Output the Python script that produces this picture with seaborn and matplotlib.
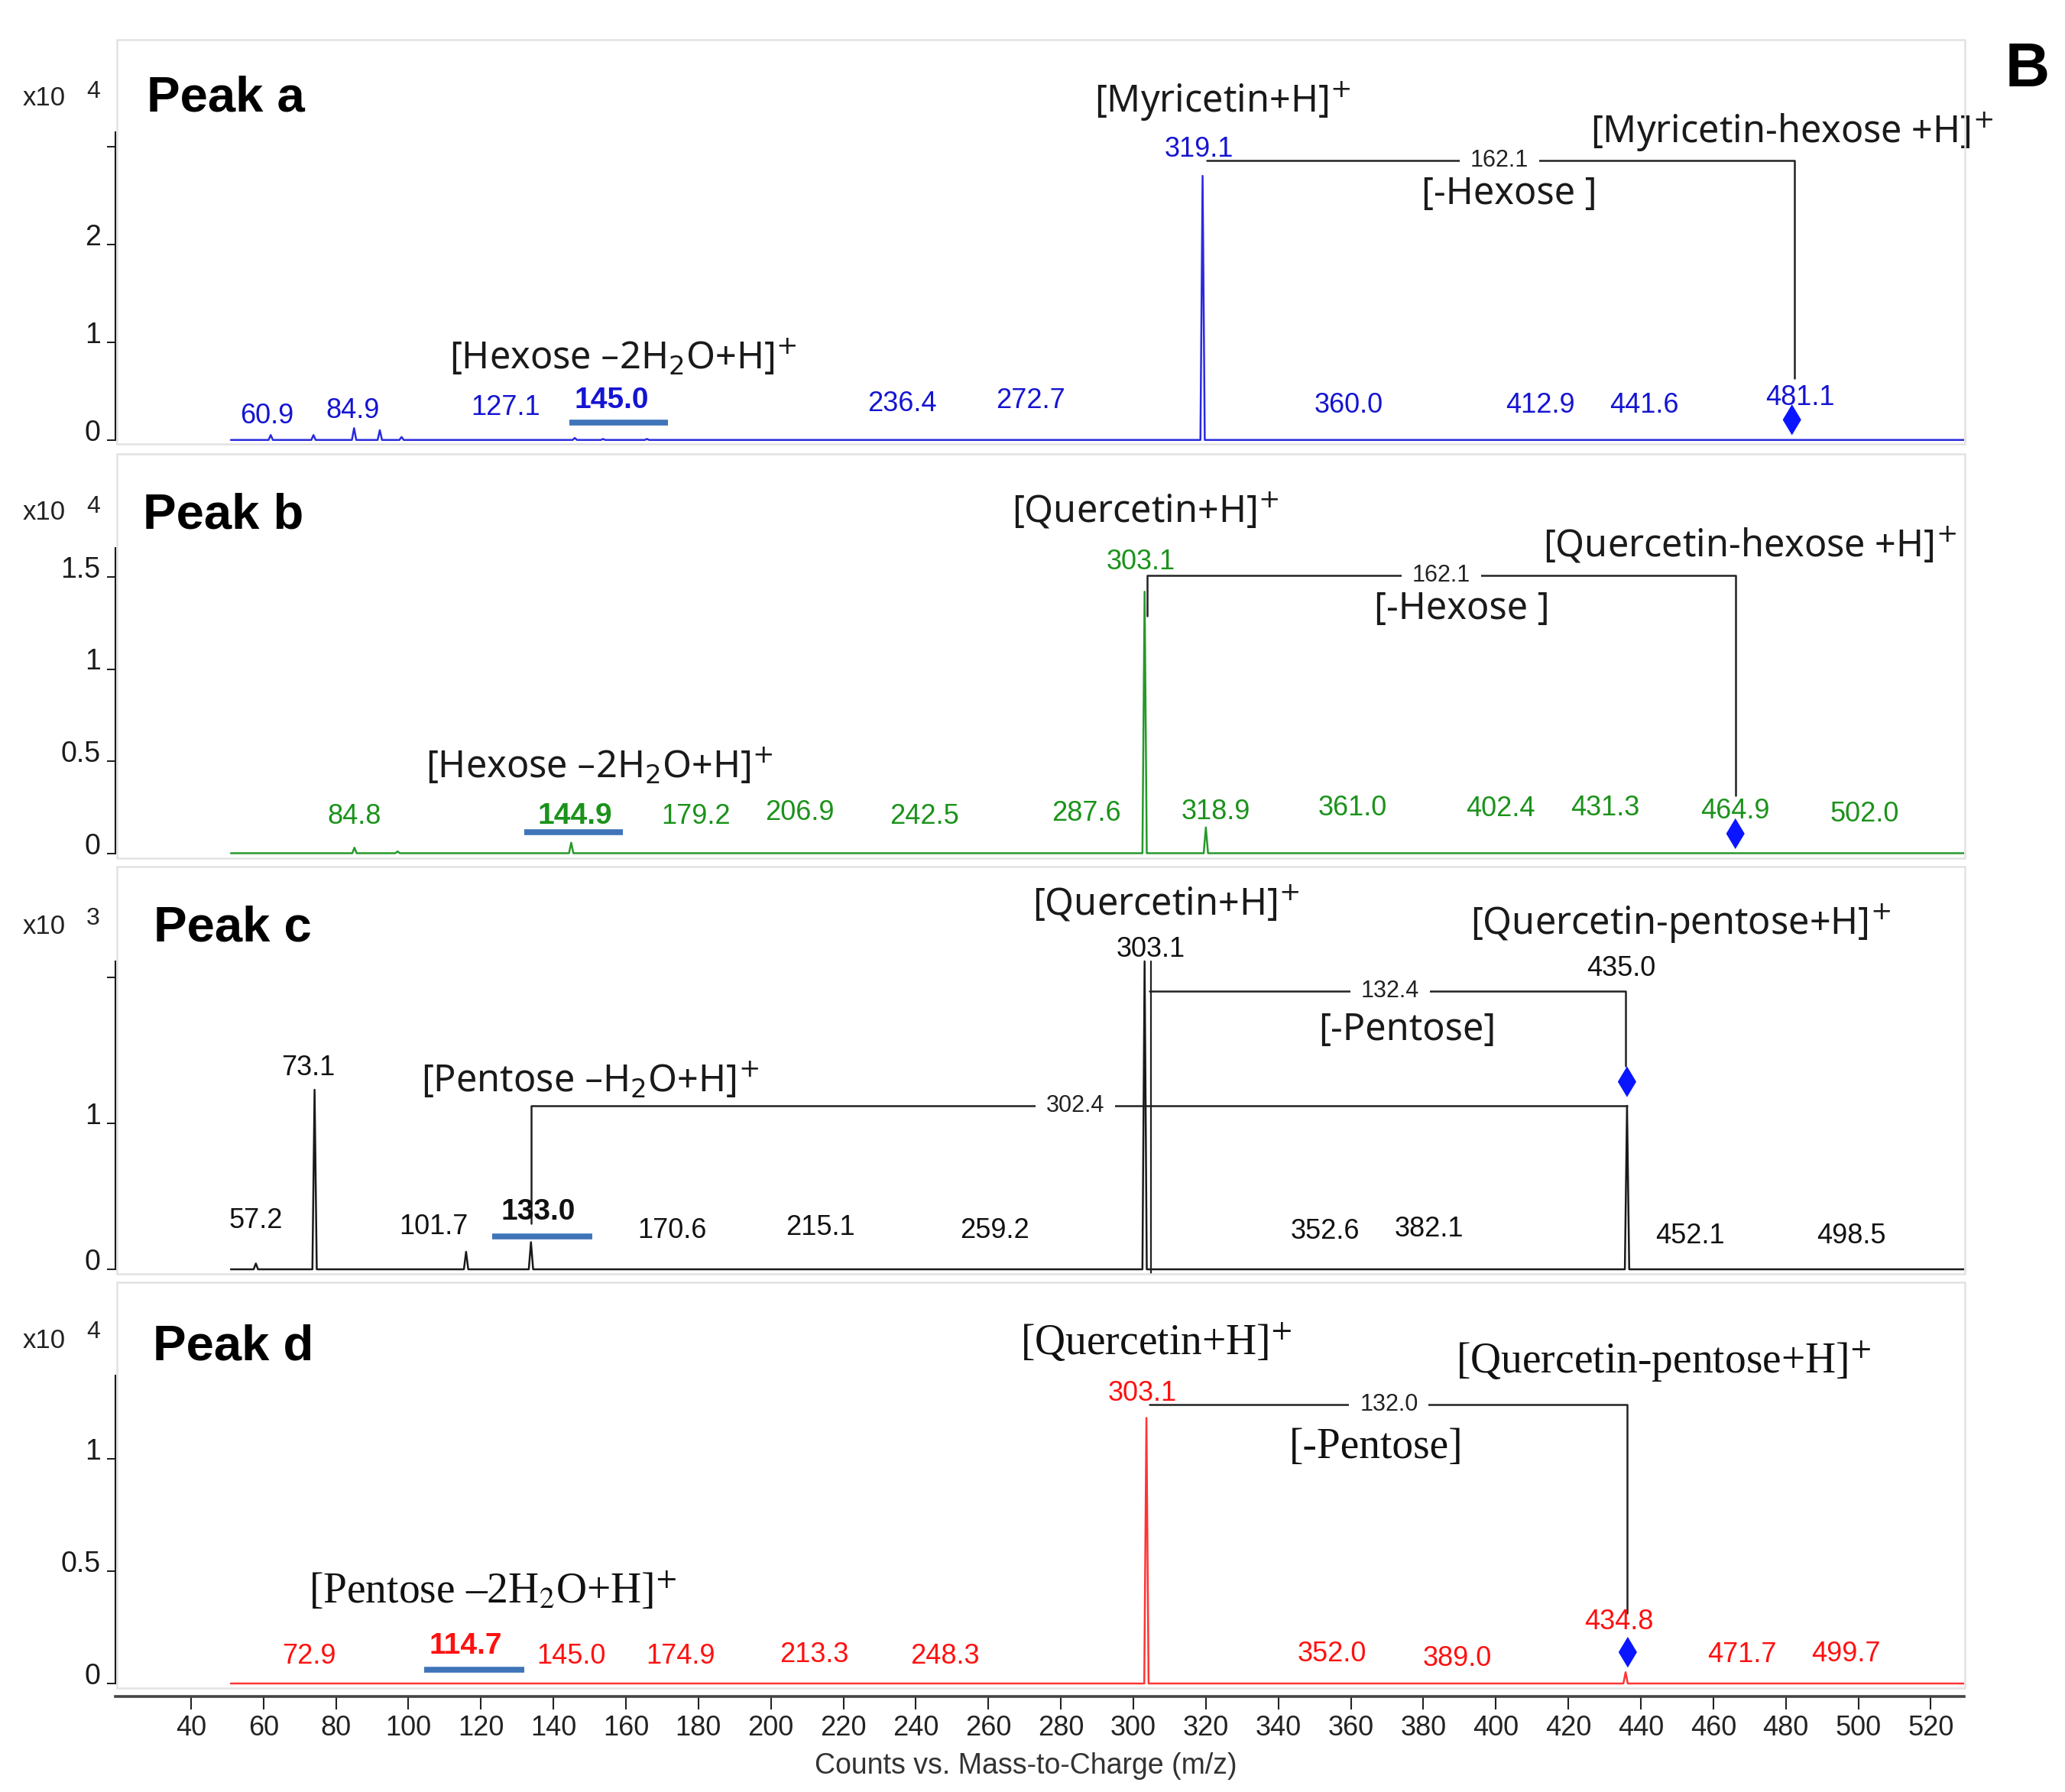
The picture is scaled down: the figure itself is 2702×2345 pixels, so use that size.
import numpy as np
import pandas as pd
import matplotlib
matplotlib.use("Agg")
import matplotlib.pyplot as plt
import seaborn as sns
from matplotlib.patches import Rectangle
from matplotlib.transforms import ScaledTranslation

# ---- data: intensities are in units of the "x10^n" shown on each panel ----
# Peak a (blue)
a_peak_mz = [62.0, 73.8, 85.0, 92.1, 98.1, 145.9, 153.7, 165.8, 319.1]
a_peak_int = [0.05, 0.05, 0.12, 0.10, 0.03, 0.02, 0.01, 0.01, 2.70]
a_labels = [60.9, 84.9, 127.1, 145.0, 236.4, 272.7, 319.1, 360.0, 412.9, 441.6, 481.1]
# Peak b (green)
b_peak_mz = [85.1, 97.0, 144.9, 303.1, 320.0]
b_peak_int = [0.03, 0.01, 0.057, 1.42, 0.14]
b_labels = [84.8, 144.9, 179.2, 206.9, 242.5, 287.6, 303.1, 318.9, 361.0, 402.4, 431.3, 464.9, 502.0]
# Peak c (black)
c_peak_mz = [57.9, 74.1, 115.9, 133.8, 303.1, 436.2]
c_peak_int = [0.04, 1.23, 0.12, 0.186, 2.11, 1.12]
c_labels = [57.2, 73.1, 101.7, 133.0, 170.6, 215.1, 259.2, 303.1, 352.6, 382.1, 435.0, 452.1, 498.5]
# Peak d (red)
d_peak_mz = [303.6, 435.8]
d_peak_int = [1.18, 0.05]
d_labels = [72.9, 114.7, 145.0, 174.9, 213.3, 248.3, 303.1, 352.0, 389.0, 434.8, 471.7, 499.7]

x_ticks = list(range(40, 521, 20))

# ---- layout (label positions in data coords) ----
a_lab_x = [60.9, 84.7, 126.7, 156.0, 236.2, 271.7, 318.0, 359.5, 412.3, 441.0, 484.0]
a_lab_y = [0.24, 0.295, 0.33, 0.40, 0.365, 0.40, 2.97, 0.35, 0.35, 0.35, 0.43]
b_lab_x = [85.1, 145.9, 179.2, 207.9, 242.4, 287.0, 302.0, 322.7, 360.4, 401.3, 430.2, 466.1, 501.8]
b_lab_y = [0.2, 0.2, 0.2, 0.221, 0.2, 0.216, 1.58, 0.223, 0.244, 0.24, 0.244, 0.23, 0.21]
c_lab_x = [57.9, 72.4, 106.9, 135.7, 172.8, 213.6, 261.8, 304.8, 352.9, 381.6, 434.6, 453.7, 498.1]
c_lab_y = [0.33, 1.377, 0.293, 0.393, 0.267, 0.285, 0.267, 2.19, 0.258, 0.277, 2.06, 0.23, 0.23]
d_lab_x = [72.6, 115.7, 145.0, 175.0, 211.9, 248.0, 302.5, 354.8, 389.3, 434.0, 468.0, 496.7]
d_lab_y = [0.119, 0.168, 0.119, 0.119, 0.126, 0.119, 1.29, 0.132, 0.112, 0.275, 0.126, 0.132]

panels = [
    dict(name="Peak a", exp="4", box=(52, 581, 575.7, 128), spine_top=3.15,
         yticks=[0, 1, 2, 3], yticklabels=["0", "1", "2", ""],
         line="#2a2ae0", txt="#1414d2", mz=a_peak_mz, inten=a_peak_int,
         labels=a_labels, lx=a_lab_x, ly=a_lab_y, bold=3, bar=(144.3, 171.5, 0.18),
         diamond=(481.7, 0.206),
         brackets=[(320.3, 482.4, 2.856, None, 0.634, "162.1", 401.0)],
         extra=[],
         notes=[("[Myricetin+H]$^{+}$", 324.7, 3.46), ("[Myricetin-hexose +H]$^{+}$", 481.6, 3.15),
                ("[-Hexose ]", 403.7, 2.51), ("[Hexose \u20132H$_2$O+H]$^{+}$", 159.2, 0.84)],
         serif=False, xy=((58, 129), (122, 120)), peak_xy=(192, 145)),
    dict(name="Peak b", exp="4", box=(594, 1123.4, 1116.5, 241), spine_top=1.658,
         yticks=[0, 0.5, 1, 1.5], yticklabels=["0", "0.5", "1", "1.5"],
         line="#26992a", txt="#1b921b", mz=b_peak_mz, inten=b_peak_int,
         labels=b_labels, lx=b_lab_x, ly=b_lab_y, bold=1, bar=(132.0, 159.2, 0.114),
         diamond=(466.1, 0.106),
         brackets=[(303.8, 466.1, 1.51, 1.29, 0.313, "162.1", 385.0)],
         extra=[],
         notes=[("[Quercetin+H]$^{+}$", 303.4, 1.857), ("[Quercetin-hexose +H]$^{+}$", 470.0, 1.67),
                ("[-Hexose ]", 390.6, 1.325), ("[Hexose \u20132H$_2$O+H]$^{+}$", 152.7, 0.467)],
         serif=False, xy=((58, 670), (122, 663)), peak_xy=(187, 691)),
    dict(name="Peak c", exp="3", box=(1134, 1667, 1661, 191), spine_top=2.11,
         yticks=[0, 1, 2], yticklabels=["0", "1", ""],
         line="#1a1a1a", txt="#111111", mz=c_peak_mz, inten=c_peak_int,
         labels=c_labels, lx=c_lab_x, ly=c_lab_y, bold=3, bar=(123.2, 150.7, 0.225),
         diamond=(436.2, 1.285),
         brackets=[(304.4, 435.8, 1.907, None, 1.394, "132.4", 370.8),
                   (133.8, 436.2, 1.12, 0.312, None, "302.4", 284.0)],
         extra=[(304.9, -0.04, 2.11)],
         notes=[("[Quercetin+H]$^{+}$", 309.1, 2.5), ("[Quercetin-pentose+H]$^{+}$", 451.0, 2.37),
                ("[-Pentose]", 375.5, 1.64), ("[Pentose \u2013H$_2$O+H]$^{+}$", 150.1, 1.29)],
         serif=False, xy=((58, 1212), (122, 1202)), peak_xy=(201, 1231)),
    dict(name="Peak d", exp="4", box=(1678, 2209, 2203, 294.5), spine_top=1.368,
         yticks=[0, 0.5, 1], yticklabels=["0", "0.5", "1"],
         line="#ff3434", txt="#ff1010", mz=d_peak_mz, inten=d_peak_int,
         labels=d_labels, lx=d_lab_x, ly=d_lab_y, bold=1, bar=(104.4, 131.9, 0.061),
         diamond=(436.4, 0.139),
         brackets=[(304.4, 436.2, 1.24, None, 0.312, "132.0", 370.5)],
         extra=[],
         notes=[("[Quercetin+H]$^{+}$", 306.2, 1.515), ("[Quercetin-pentose+H]$^{+}$", 446.2, 1.43),
                ("[-Pentose]", 367.0, 1.05), ("[Pentose \u20132H$_2$O+H]$^{+}$", 123.3, 0.41)],
         serif=True, xy=((58, 1755), (122, 1743)), peak_xy=(200, 1780)),
]

sns.set_theme(style="white")
plt.rcParams["font.family"] = ["Liberation Sans", "DejaVu Sans"]

W, H = 2702, 2345
fig = plt.figure(figsize=(W / 100, H / 100), dpi=100)
XLIM = (19.15, 529.2)


def profile(mz, inten, start=51.0, stop=529.2, hw=0.6):
    xs, ys = [start], [0.0]
    for m, h in sorted(zip(mz, inten)):
        xs += [m - hw, m, m + hw]
        ys += [0.0, h, 0.0]
    xs.append(stop)
    ys.append(0.0)
    return pd.DataFrame({"mz": xs, "intensity": ys})


def ftext(x, y, s, **kw):
    return fig.text(x / W, 1 - y / H, s, **kw)


for p in panels:
    top, bot, zero, unit = p["box"]
    ax = fig.add_axes([151 / W, 1 - bot / H, (2570 - 151) / W, (bot - top) / H])
    ax.set_facecolor("none")
    fig.add_artist(Rectangle((153 / W, 1 - bot / H), (2571 - 153) / W, (bot - top) / H,
                             transform=fig.transFigure, fill=False, ec="#e2e2e2", lw=1.8))

    sns.lineplot(data=profile(p["mz"], p["inten"]), x="mz", y="intensity", ax=ax,
                 color=p["line"], linewidth=1.8, estimator=None, sort=False)
    ax.set_xlim(*XLIM)
    ax.set_ylim(-(bot - zero) / unit, (zero - top) / unit)
    ax.set_xlabel("")
    ax.set_ylabel("")

    for sp in ["top", "right", "bottom"]:
        ax.spines[sp].set_visible(False)
    ax.spines["left"].set_bounds(0, p["spine_top"])
    ax.spines["left"].set_color("#1a1a1a")
    ax.spines["left"].set_linewidth(1.5)
    ax.set_yticks(p["yticks"])
    ax.set_yticklabels(p["yticklabels"])
    ax.tick_params(axis="y", left=True, direction="out", length=8, width=1.4,
                   pad=6, labelsize=27, colors="#1a1a1a")
    off = ScaledTranslation(0, 0.13, fig.dpi_scale_trans)
    for t in ax.yaxis.get_major_ticks():
        t.label1.set_transform(t.label1.get_transform() + off)

    # peak m/z labels
    for i, (v, x, y) in enumerate(zip(p["labels"], p["lx"], p["ly"])):
        bold = i == p["bold"]
        ax.text(x, y, f"{v:.1f}", ha="center", va="center", color=p["txt"],
                fontsize=28 if bold else 26, fontweight="bold" if bold else "normal", zorder=4)
    x0, x1, yb = p["bar"]
    ax.hlines(yb, x0, x1, color="#3f74b9", lw=5.5, zorder=3)

    sns.scatterplot(x=[p["diamond"][0]], y=[p["diamond"][1]], marker="d", s=420,
                    color="#0a16ff", edgecolor="none", ax=ax, zorder=5)

    for bx0, bx1, by, yl, yr, lab, labx in p["brackets"]:
        xs, ys = [bx0, bx1], [by, by]
        if yl is not None:
            xs, ys = [bx0] + xs, [yl] + ys
        if yr is not None:
            xs, ys = xs + [bx1], ys + [yr]
        ax.plot(xs, ys, color="#222222", lw=1.8, zorder=2)
        ax.text(labx, by, lab, ha="center", va="center", fontsize=22, color="#222222", zorder=3,
                bbox=dict(boxstyle="square,pad=0.45", fc="white", ec="none"))
    for ex, ey0, ey1 in p["extra"]:
        ax.plot([ex, ex], [ey0, ey1], color="#222222", lw=1.6, zorder=2)

    for s, x, y in p["notes"]:
        if p["serif"]:
            ax.text(x, y, s, ha="center", va="center", fontsize=40, color="#111111",
                    family="Liberation Serif", math_fontfamily="stix", zorder=6)
        else:
            ax.text(x, y, s, ha="center", va="center", fontsize=35, color="#1a1a1a",
                    family="Noto Sans", math_fontfamily="dejavusans", zorder=6)

    (ux, uy), (ex_, ey_) = p["xy"]
    ftext(ux, uy, "x10", ha="center", va="center", fontsize=25, color="#222222")
    ftext(ex_, ey_, p["exp"], ha="center", va="center", fontsize=23, color="#222222")
    ftext(p["peak_xy"][0], p["peak_xy"][1], p["name"], ha="left", va="baseline",
          fontsize=47, fontweight="bold", family="Liberation Sans", color="#000000")

    if p["name"] == "Peak d":
        ax.spines["bottom"].set_visible(True)
        ax.spines["bottom"].set_position(("outward", 8))
        ax.spines["bottom"].set_color("#444444")
        ax.spines["bottom"].set_linewidth(2.6)
        ax.set_xticks(x_ticks)
        ax.tick_params(axis="x", bottom=True, direction="out", length=12, width=1.5,
                       pad=5, labelsize=26, colors="#222222")
    else:
        ax.set_xticks([])

ftext(1342, 2311, "Counts vs. Mass-to-Charge (m/z)", ha="center", va="center",
      fontsize=27, color="#333333")
ftext(2653, 92, "B", ha="center", va="center", fontsize=58, fontweight="bold", color="#000000")

fig.savefig("out.png", dpi=100, facecolor="white")
